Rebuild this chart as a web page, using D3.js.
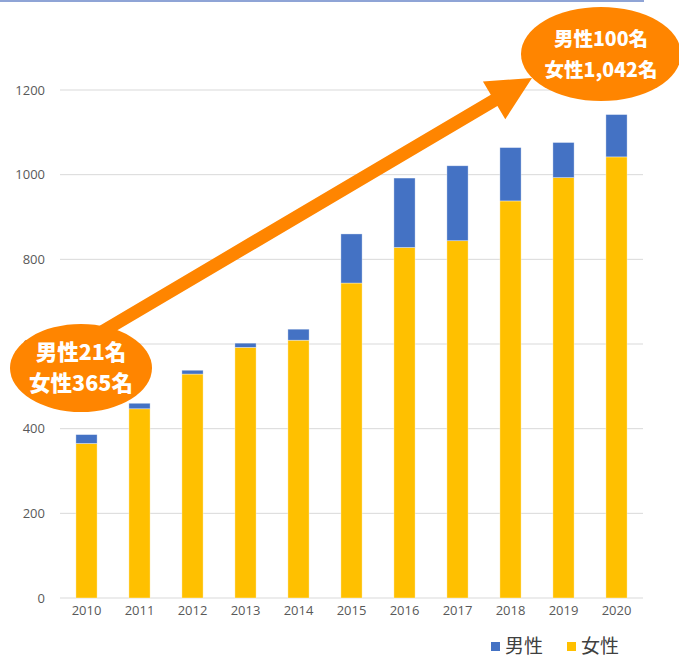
<!DOCTYPE html>
<html>
<head>
<meta charset="utf-8">
<script src="https://cdn.jsdelivr.net/npm/d3@7"></script>
<style>
  body { margin: 0; background: #fff; }
  svg { display: block; }
</style>
</head>
<body>
<div id="chart"></div>
<script>
// データ
const years = ["2010", "2011", "2012", "2013", "2014", "2015", "2016", "2017", "2018", "2019", "2020"];
const female = [365, 447, 529, 592, 609, 744, 828, 844, 938, 993, 1042];
const male = [21, 13, 9, 10, 26, 116, 164, 177, 126, 83, 100];
const yTicks = [0, 200, 400, 600, 800, 1000, 1200];
const seriesNames = ["男性", "女性"];
const startLabel = ["男性21名", "女性365名"];
const endLabel = ["男性100名", "女性1,042名"];

const width = 679, height = 657;
const colors = { "男性": "#4472c4", "女性": "#ffc000" };
const orange = "#ff8500";

const svg = d3.select("#chart").append("svg")
    .attr("width", width)
    .attr("height", height);

// 上の枠線
svg.append("line")
    .attr("x1", 0).attr("x2", 644)
    .attr("y1", 1).attr("y2", 1)
    .attr("stroke", "#8fa4d6")
    .attr("stroke-width", 2);

const x = d3.scaleBand()
    .domain(years)
    .range([60, 643])
    .paddingInner(0.6)
    .paddingOuter(0.3);

const y = d3.scaleLinear()
    .domain([0, 1200])
    .range([598, 90]);

// グリッド線
svg.append("g")
    .selectAll("line")
    .data(yTicks)
    .enter()
    .append("line")
    .attr("x1", 60).attr("x2", 643)
    .attr("y1", d => y(d)).attr("y2", d => y(d))
    .attr("stroke", "#d9d9d9")
    .attr("stroke-width", 1);

// Y軸ラベル
svg.append("g")
    .attr("transform", "translate(45,0)")
    .call(d3.axisLeft(y).tickValues(yTicks).tickFormat(d3.format("d")).tickSize(0).tickPadding(0))
    .call(g => g.select(".domain").remove())
    .selectAll("text")
    .attr("fill", "#595959")
    .style("font-family", "'Open Sans', 'Noto Sans', sans-serif")
    .style("font-size", "13px");

// X軸ラベル
svg.append("g")
    .attr("transform", "translate(0,606)")
    .call(d3.axisBottom(x).tickSize(0).tickPadding(0))
    .call(g => g.select(".domain").remove())
    .selectAll("text")
    .attr("fill", "#595959")
    .style("font-family", "'Open Sans', 'Noto Sans', sans-serif")
    .style("font-size", "13px");

// 積み上げ棒
const table = years.map((yr, i) => ({ year: yr, "女性": female[i], "男性": male[i] }));
const stack = d3.stack().keys(["女性", "男性"])(table);

svg.append("g")
    .selectAll("g")
    .data(stack)
    .enter()
    .append("g")
    .attr("fill", d => colors[d.key])
    .selectAll("rect")
    .data(d => d)
    .enter()
    .append("rect")
    .attr("x", d => x(d.data.year))
    .attr("y", d => y(d[1]))
    .attr("width", x.bandwidth())
    .attr("height", d => y(d[0]) - y(d[1]))
    .attr("stroke", "rgba(255,255,255,0.5)")
    .attr("stroke-width", 0.7);

// 矢印
const ax0 = 100, ay0 = 333, ax1 = 532, ay1 = 78;
const ang = Math.atan2(ay1 - ay0, ax1 - ax0);
const len = Math.hypot(ax1 - ax0, ay1 - ay0);
const shaftW = 6.5, headW = 22, headL = 44;
const arrow = svg.append("g")
    .attr("transform", `translate(${ax0},${ay0}) rotate(${ang * 180 / Math.PI})`);
arrow.append("path")
    .attr("d", d3.line()([
        [0, -shaftW], [len - headL, -shaftW], [len - headL, -headW],
        [len, 0],
        [len - headL, headW], [len - headL, shaftW], [0, shaftW]
    ]) + "Z")
    .attr("fill", orange);

// 吹き出し
function bubble(cx, cy, rx, ry, lines, size, gap) {
    svg.append("ellipse")
        .attr("cx", cx).attr("cy", cy)
        .attr("rx", rx).attr("ry", ry)
        .attr("fill", orange);
    svg.append("g")
        .selectAll("text")
        .data(lines)
        .enter()
        .append("text")
        .attr("x", cx)
        .attr("y", (d, i) => cy - gap / 2 + i * gap)
        .attr("dy", "0.36em")
        .attr("text-anchor", "middle")
        .attr("fill", "#fff")
        .style("font-family", "'Noto Sans CJK JP', sans-serif")
        .style("font-weight", "900")
        .style("font-size", size + "px")
        .text(d => d);
}
bubble(81, 368, 71, 44, startLabel, 21.5, 31);
bubble(601, 54, 80, 47, endLabel, 19.5, 31);

// 凡例
const legend = svg.append("g")
    .attr("transform", "translate(491,646)");
const item = legend.selectAll("g")
    .data(seriesNames)
    .enter()
    .append("g")
    .attr("transform", (d, i) => `translate(${i * 76},0)`);
item.append("rect")
    .attr("x", 0).attr("y", -4)
    .attr("width", 9).attr("height", 9)
    .attr("fill", d => colors[d]);
item.append("text")
    .attr("x", 14)
    .attr("y", 0)
    .attr("dy", "0.36em")
    .attr("fill", "#404040")
    .style("font-family", "'Noto Sans CJK JP', sans-serif")
    .style("font-size", "19px")
    .text(d => d);
</script>
</body>
</html>
